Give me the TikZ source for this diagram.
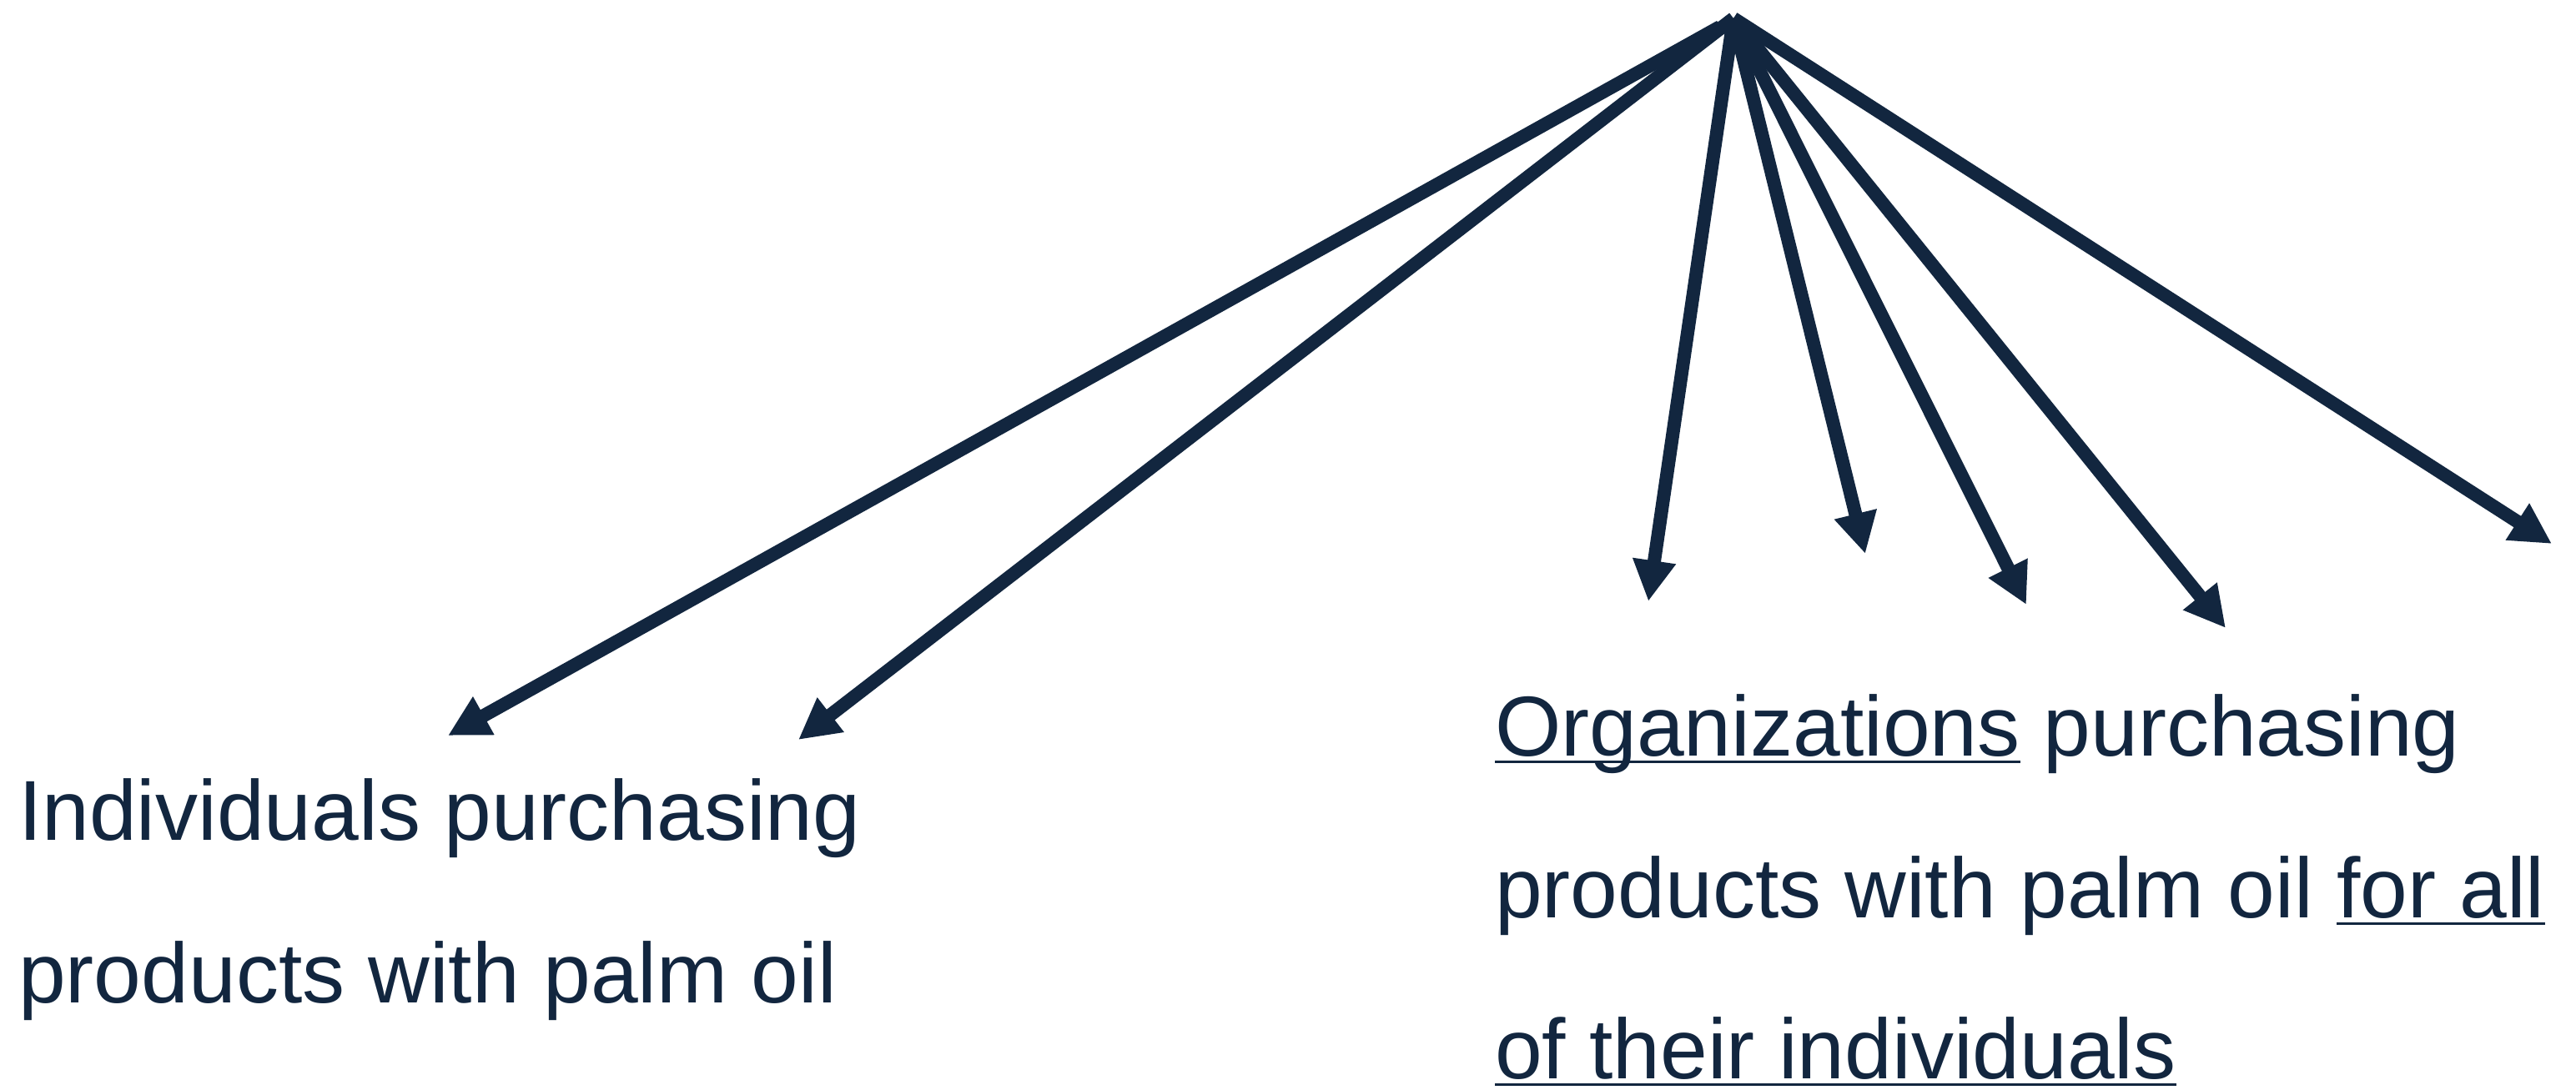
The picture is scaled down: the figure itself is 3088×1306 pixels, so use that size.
\documentclass[tikz,border=0pt]{standalone}
\usepackage{fontspec}
\setmainfont{Liberation Sans}
\usetikzlibrary{arrows.meta}
\definecolor{navy}{HTML}{12263F}
\newcommand\ulx[1]{\setbox0\hbox{#1}\rlap{\color{navy}\rule[-9pt]{\wd0}{3.5pt}}\box0\relax}
\begin{document}
\begin{tikzpicture}[x=1pt,y=-1pt,
  arr/.style={line width=16pt, draw=navy, -{Triangle[length=49pt,width=49pt]}},
  lbl/.style={anchor=base west, inner sep=0pt, text=navy, font=\fontsize{102}{195}\selectfont}]
\useasboundingbox (0,0) rectangle (3088,1306);
\coordinate (apex) at (2078,22);
\coordinate (apexL) at (2062,32);
\coordinate (t1) at (537,882);
\coordinate (t2) at (957,887);
\coordinate (t3) at (1976,721);
\coordinate (t4) at (2236,664);
\coordinate (t5) at (2429,725);
\coordinate (t6) at (2668,753);
\coordinate (t7) at (3059,652);
\draw[arr] (apexL) -- (t1);
\draw[arr] (apex) -- (t2);
\draw[arr] (apex) -- (t3);
\draw[arr] (apex) -- (t4);
\draw[arr] (apex) -- (t5);
\draw[arr] (apex) -- (t6);
\draw[arr] (apex) -- (t7);
\node[lbl] (l1) at (22,1007) {Individuals purchasing};
\node[lbl] (l2) at (22,1202) {products with palm oil};
\node[lbl] (r1) at (1792,906) {\ulx{Organizations} purchasing};
\node[lbl] (r2) at (1792,1100) {products with palm oil \ulx{for all}};
\node[lbl] (r3) at (1792,1293) {\ulx{of their individuals}};
\end{tikzpicture}
\end{document}
